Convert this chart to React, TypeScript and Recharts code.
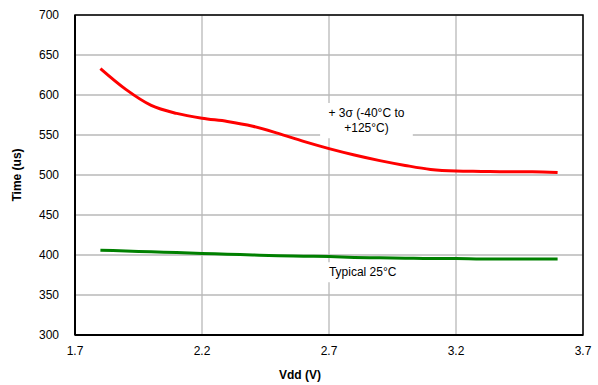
import React from 'react';
import { LineChart, Line, XAxis, YAxis, CartesianGrid, ReferenceArea } from 'recharts';

const vddRed = [1.8, 1.9, 2.0, 2.1, 2.2, 2.3, 2.4, 2.5, 2.6, 2.7, 2.8, 2.9, 3.0, 3.1, 3.2, 3.3, 3.4, 3.5, 3.6];
const sigmaTime = [633, 607, 587, 577, 571, 567, 561, 552, 542, 533, 525, 518, 512, 507, 505, 504.5, 504, 504, 503];
const typicalTime = [406, 405, 404, 403, 402, 401, 400, 399, 398.5, 398, 397, 396.5, 396, 395.5, 395.5, 395, 395, 395, 395];
const xTicks = [1.7, 2.2, 2.7, 3.2, 3.7];
const yTicks = [300, 350, 400, 450, 500, 550, 600, 650, 700];

const data = vddRed.map((v, i) => ({ vdd: v, sigma: sigmaTime[i], typ: typicalTime[i] }));

const FONT = 'Arial, "Liberation Sans", sans-serif';

const SigmaLabel = (props: any) => {
  const vb = props.viewBox || {};
  const cx = vb.x + vb.width / 2;
  return (
    <g>
      <text x={cx} y={vb.y + 14} textAnchor="middle" fontFamily={FONT} fontSize={12} fill="#000">+ 3σ (-40°C to</text>
      <text x={cx} y={vb.y + 29} textAnchor="middle" fontFamily={FONT} fontSize={12} fill="#000">+125°C)</text>
    </g>
  );
};

const TypLabel = (props: any) => {
  const vb = props.viewBox || {};
  return (
    <text x={vb.x + 5} y={vb.y + 14} textAnchor="start" fontFamily={FONT} fontSize={12} fill="#000">Typical 25°C</text>
  );
};

const XTitle = (props: any) => {
  const vb = props.viewBox || {};
  return (
    <text x={300} y={vb.y + 44} textAnchor="middle" fontFamily={FONT} fontSize={12} fontWeight="bold" fill="#000">Vdd (V)</text>
  );
};

export default function App() {
  return (
    <div style={{ position: 'absolute', left: 0, top: 0, width: 598, height: 385, background: '#fff' }}>
      <LineChart width={598} height={385} data={data} margin={{ top: 15, right: 15, bottom: 0, left: 0 }}>
        <CartesianGrid xAxisId="main" yAxisId="main" stroke="#b8b8b8" strokeWidth={1.3} horizontalValues={yTicks} verticalValues={xTicks} />
        <XAxis
          xAxisId="main"
          dataKey="vdd"
          type="number"
          domain={[1.7, 3.7]}
          ticks={xTicks}
          tickFormatter={(v: number) => v.toFixed(1)}
          tickLine={false}
          axisLine={{ stroke: '#000', strokeWidth: 2 }}
          tick={{ fill: '#000', fontSize: 12, fontFamily: FONT }}
          tickMargin={5}
          height={50}
          label={<XTitle />}
        />
        <YAxis
          yAxisId="main"
          type="number"
          domain={[300, 700]}
          ticks={yTicks}
          tickLine={false}
          axisLine={{ stroke: '#000', strokeWidth: 2 }}
          tick={{ fill: '#000', fontSize: 12, fontFamily: FONT }}
          tickMargin={10}
          width={75}
          label={{ value: 'Time (us)', angle: -90, position: 'insideLeft', offset: 17, fill: '#000', fontSize: 12, fontWeight: 'bold', fontFamily: FONT, style: { textAnchor: 'middle' } }}
        />
        <ReferenceArea xAxisId="main" yAxisId="main" x1={1.7} x2={3.7} y1={300} y2={700} fill="none" fillOpacity={0} stroke="#000" strokeWidth={1.5} />
        <ReferenceArea xAxisId="main" yAxisId="main" x1={2.665} x2={3.03} y1={546} y2={590} fill="#fff" fillOpacity={1} stroke="none" label={<SigmaLabel />} />
        <ReferenceArea xAxisId="main" yAxisId="main" x1={2.68} x2={3.0} y1={366} y2={391} fill="#fff" fillOpacity={1} stroke="none" label={<TypLabel />} />
        <Line xAxisId="main" yAxisId="main" type="monotone" dataKey="sigma" stroke="#ff0000" strokeWidth={3} dot={false} isAnimationActive={false} />
        <Line xAxisId="main" yAxisId="main" type="monotone" dataKey="typ" stroke="#008000" strokeWidth={3} dot={false} isAnimationActive={false} />
      </LineChart>
    </div>
  );
}
